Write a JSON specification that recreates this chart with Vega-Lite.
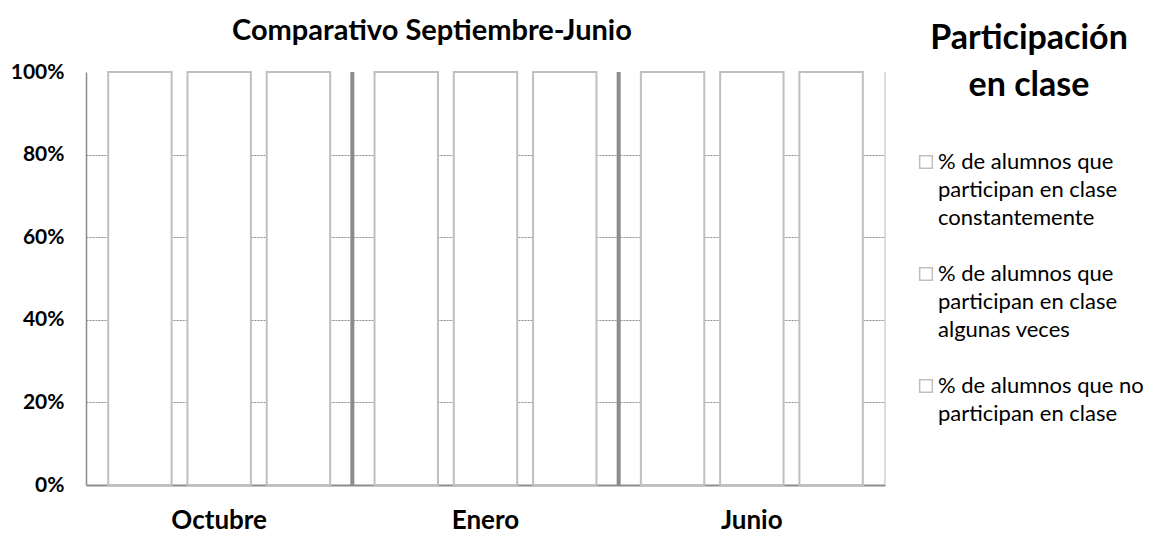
{
  "$schema": "https://vega.github.io/schema/vega-lite/v6.json",
  "width": 799,
  "height": 413,
  "autosize": {"type": "none"},
  "padding": {"left": 86, "top": 72, "right": 290, "bottom": 48},
  "background": "white",
  "config": {
    "font": "Lato",
    "view": {"stroke": null}
  },
  "title": {
    "text": "Comparativo Septiembre-Junio",
    "anchor": "start",
    "frame": "group",
    "dx": 146,
    "offset": -40,
    "fontSize": 29,
    "font": "Lato",
    "fontWeight": "bold",
    "color": "#000000"
  },
  "datasets": {
    "barras": [
      {"mes": "Octubre", "cat": "% de alumnos que participan en clase constantemente", "valor": 1},
      {"mes": "Octubre", "cat": "% de alumnos que participan en clase algunas veces", "valor": 1},
      {"mes": "Octubre", "cat": "% de alumnos que no participan en clase", "valor": 1},
      {"mes": "Enero", "cat": "% de alumnos que participan en clase constantemente", "valor": 1},
      {"mes": "Enero", "cat": "% de alumnos que participan en clase algunas veces", "valor": 1},
      {"mes": "Enero", "cat": "% de alumnos que no participan en clase", "valor": 1},
      {"mes": "Junio", "cat": "% de alumnos que participan en clase constantemente", "valor": 1},
      {"mes": "Junio", "cat": "% de alumnos que participan en clase algunas veces", "valor": 1},
      {"mes": "Junio", "cat": "% de alumnos que no participan en clase", "valor": 1}
    ],
    "separadores": [{"mes": "Enero"}, {"mes": "Junio"}],
    "borde": [{"mes": "Junio"}]
  },
  "layer": [
    {
      "data": {"name": "barras"},
      "mark": {"type": "bar", "stroke": "#bfbfbf", "strokeWidth": 2},
      "encoding": {
        "x": {
          "field": "mes",
          "type": "nominal",
          "scale": {"domain": ["Octubre", "Enero", "Junio"], "paddingInner": 0, "paddingOuter": 0},
          "axis": {
            "title": null,
            "labelAngle": 0,
            "labelFont": "Lato",
            "labelFontSize": 26,
            "labelFontWeight": "bold",
            "labelColor": "#000000",
            "labelPadding": 22,
            "ticks": false,
            "domainColor": "#8c8c8c",
            "domainWidth": 2
          }
        },
        "xOffset": {
          "field": "cat",
          "type": "nominal",
          "scale": {
            "domain": [
              "% de alumnos que participan en clase constantemente",
              "% de alumnos que participan en clase algunas veces",
              "% de alumnos que no participan en clase"
            ],
            "paddingInner": 0.2,
            "paddingOuter": 0.28
          }
        },
        "y": {
          "field": "valor",
          "type": "quantitative",
          "scale": {"domain": [0, 1], "nice": false},
          "axis": {
            "title": null,
            "format": ".0%",
            "values": [0, 0.2, 0.4, 0.6, 0.8, 1],
            "labelFont": "Lato",
            "labelFontSize": 21,
            "labelFontWeight": "bold",
            "labelColor": "#000000",
            "labelPadding": 22,
            "ticks": false,
            "domainColor": "#8c8c8c",
            "domainWidth": 1.5,
            "grid": true,
            "gridColor": "#8c8c8c",
            "gridDash": [2, 1],
            "gridWidth": 1,
            "gridOpacity": {"condition": {"test": "datum.value === 0 || datum.value === 1", "value": 0}, "value": 1}
          }
        },
        "color": {
          "field": "cat",
          "type": "nominal",
          "scale": {
            "domain": [
              "% de alumnos que participan en clase constantemente",
              "% de alumnos que participan en clase algunas veces",
              "% de alumnos que no participan en clase"
            ],
            "range": ["#ffffff", "#ffffff", "#ffffff"]
          },
          "legend": {
            "orient": "none",
            "legendX": 813,
            "legendY": -66,
            "title": ["Participación", "en clase"],
            "titleFont": "Lato",
            "titleFontSize": 34,
            "titleFontWeight": "bold",
            "titleColor": "#000000",
            "titleLineHeight": 47,
            "titleAnchor": "middle",
            "titlePadding": 48,
            "titleLimit": 400,
            "labelExpr": "datum.label === '% de alumnos que participan en clase constantemente' ? ['% de alumnos que', 'participan en clase', 'constantemente'] : datum.label === '% de alumnos que participan en clase algunas veces' ? ['% de alumnos que', 'participan en clase', 'algunas veces'] : ['% de alumnos que no', 'participan en clase']",
            "labelFont": "Lato",
            "labelFontSize": 22,
            "labelColor": "#000000",
            "labelLimit": 0,
            "labelOffset": 1,
            "symbolType": "square",
            "symbolSize": 160,
            "symbolStrokeColor": "#bfbfbf",
            "symbolStrokeWidth": 1.5,
            "symbolFillColor": "#ffffff",
            "rowPadding": 34,
            "padding": 16,
            "fillColor": "#ffffff",
            "encode": {
              "labels": {"update": {"lineHeight": {"value": 28}}}
            }
          }
        }
      }
    },
    {
      "data": {"name": "separadores"},
      "mark": {"type": "rule", "color": "#8c8c8c", "strokeWidth": 4},
      "encoding": {
        "x": {"field": "mes", "type": "nominal", "bandPosition": 0}
      }
    },
    {
      "data": {"name": "borde"},
      "mark": {"type": "rule", "color": "#d0d0d0", "strokeWidth": 1.5},
      "encoding": {
        "x": {"field": "mes", "type": "nominal", "bandPosition": 1}
      }
    }
  ]
}
